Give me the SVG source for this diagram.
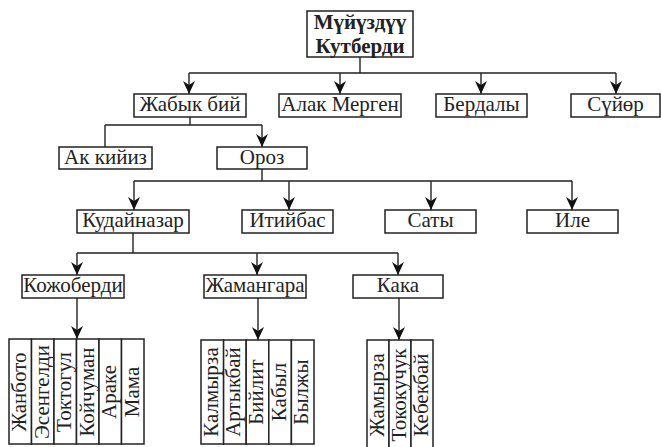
<svg xmlns="http://www.w3.org/2000/svg" width="661" height="447" viewBox="0 0 661 447">
<style>
.box{fill:#fff;stroke:#222;stroke-width:1.5}
.t{font-family:"Liberation Serif","DejaVu Serif",serif;font-size:21px;fill:#222;text-anchor:middle}
.b{font-weight:bold}
.c{fill:none;stroke:#222;stroke-width:1.4}
</style>
<defs>
<marker id="ar" markerUnits="userSpaceOnUse" markerWidth="14" markerHeight="12" refX="13" refY="6" orient="auto" viewBox="0 0 14 12">
<path d="M0,0 L13,6 L0,12 L4,6 z" fill="#111"/>
</marker>
</defs>
<rect width="661" height="447" fill="#fff"/>
<g id="connectors">
<path class="c" d="M360,57 V73 M189,73 H616"/>
<path class="c" d="M189,73 V94" marker-end="url(#ar)"/>
<path class="c" d="M340,73 V94" marker-end="url(#ar)"/>
<path class="c" d="M481,73 V94" marker-end="url(#ar)"/>
<path class="c" d="M616,73 V94" marker-end="url(#ar)"/>
<path class="c" d="M190,117 V125 M105,125 H262 M105,125 V147"/>
<path class="c" d="M262,125 V147" marker-end="url(#ar)"/>
<path class="c" d="M262,169 V181 M134,181 H572"/>
<path class="c" d="M134,181 V210" marker-end="url(#ar)"/>
<path class="c" d="M289,181 V210" marker-end="url(#ar)"/>
<path class="c" d="M431,181 V210" marker-end="url(#ar)"/>
<path class="c" d="M572,181 V210" marker-end="url(#ar)"/>
<path class="c" d="M133,233 V253 M77,253 H398"/>
<path class="c" d="M77,253 V275" marker-end="url(#ar)"/>
<path class="c" d="M257,253 V275" marker-end="url(#ar)"/>
<path class="c" d="M398,253 V275" marker-end="url(#ar)"/>
<path class="c" d="M77,298 V339" marker-end="url(#ar)"/>
<path class="c" d="M258,298 V340" marker-end="url(#ar)"/>
<path class="c" d="M399,298 V340" marker-end="url(#ar)"/>
</g>
<g id="n-root"><rect class="box" x="307" y="11" width="106" height="46"/>
<text class="t b" x="360" y="29">Мүйүздүү</text><text class="t b" x="360" y="53">Кутберди</text></g>
<g id="n-jabyk"><rect class="box" x="134" y="94" width="112" height="23"/><text class="t" x="190" y="111">Жабык бий</text></g>
<g id="n-alak"><rect class="box" x="279" y="94" width="122" height="23"/><text class="t" x="340" y="111">Алак Мерген</text></g>
<g id="n-berdaly"><rect class="box" x="436" y="94" width="91" height="23"/><text class="t" x="481.5" y="111">Бердалы</text></g>
<g id="n-suyor"><rect class="box" x="571" y="94" width="89" height="23"/><text class="t" x="615.5" y="111">Сүйөр</text></g>
<g id="n-akkiyiz"><rect class="box" x="59" y="147" width="93" height="22"/><text class="t" x="105.5" y="164">Ак кийиз</text></g>
<g id="n-oroz"><rect class="box" x="217" y="147" width="90" height="22"/><text class="t" x="262" y="164">Ороз</text></g>
<g id="n-kudaynazar"><rect class="box" x="77" y="210" width="112" height="23"/><text class="t" x="133" y="227">Кудайназар</text></g>
<g id="n-itiybas"><rect class="box" x="242" y="210" width="91" height="23"/><text class="t" x="287.5" y="227">Итийбас</text></g>
<g id="n-saty"><rect class="box" x="385" y="210" width="91" height="23"/><text class="t" x="430.5" y="227">Саты</text></g>
<g id="n-ile"><rect class="box" x="527" y="210" width="91" height="23"/><text class="t" x="572.5" y="227">Иле</text></g>
<g id="n-kojoberdi"><rect class="box" x="22" y="275" width="102" height="23"/><text class="t" x="73" y="292">Кожоберди</text></g>
<g id="n-jamangara"><rect class="box" x="204" y="275" width="102" height="23"/><text class="t" x="255" y="292">Жамангара</text></g>
<g id="n-kaka"><rect class="box" x="353" y="275" width="90" height="23"/><text class="t" x="398" y="292">Кака</text></g>
<g id="n-kojoberdi-children">
<rect class="box" x="9" y="339" width="22.5" height="105"/>
<rect class="box" x="31.5" y="339" width="22.5" height="105"/>
<rect class="box" x="54" y="339" width="22.5" height="105"/>
<rect class="box" x="76.5" y="339" width="22.5" height="105"/>
<rect class="box" x="99" y="339" width="22.5" height="105"/>
<rect class="box" x="121.5" y="339" width="22.5" height="105"/>
<text class="t" transform="translate(26,392) rotate(-90)">Жанбото</text>
<text class="t" transform="translate(48.5,392) rotate(-90)">Эсенгелди</text>
<text class="t" transform="translate(71,392) rotate(-90)">Токтогул</text>
<text class="t" transform="translate(93.5,392) rotate(-90)">Койчуман</text>
<text class="t" transform="translate(116,392) rotate(-90)">Араке</text>
<text class="t" transform="translate(138.5,392) rotate(-90)">Мама</text>
</g>
<g id="n-jamangara-children">
<rect class="box" x="201" y="340" width="22.6" height="104"/>
<rect class="box" x="223.6" y="340" width="22.6" height="104"/>
<rect class="box" x="246.2" y="340" width="22.6" height="104"/>
<rect class="box" x="268.8" y="340" width="22.6" height="104"/>
<rect class="box" x="291.4" y="340" width="22.6" height="104"/>
<text class="t" transform="translate(217.8,392) rotate(-90)">Калмырза</text>
<text class="t" transform="translate(240.4,392) rotate(-90)">Артыкбай</text>
<text class="t" transform="translate(263,392) rotate(-90)">Бийлит</text>
<text class="t" transform="translate(285.6,392) rotate(-90)">Кабыл</text>
<text class="t" transform="translate(308.2,392) rotate(-90)">Былжы</text>
</g>
<g id="n-kaka-children">
<rect class="box" x="367" y="340" width="22" height="110"/>
<rect class="box" x="389" y="340" width="22" height="110"/>
<rect class="box" x="411" y="340" width="22" height="110"/>
<text class="t" transform="translate(383.5,395) rotate(-90)">Жамырза</text>
<text class="t" transform="translate(405.5,395) rotate(-90)">Тококучук</text>
<text class="t" transform="translate(427.5,395) rotate(-90)">Кебекбай</text>
</g>
</svg>
